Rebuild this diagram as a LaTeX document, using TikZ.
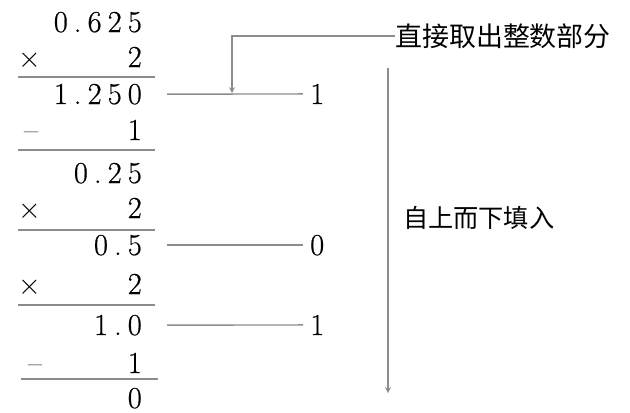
\documentclass[tikz,border=0pt]{standalone}
\usepackage{fontspec}
\usepackage{tikz}
\usetikzlibrary{positioning}
\newfontfamily\cjk{Noto Sans CJK SC}
\newfontfamily\numfont[LetterSpace=20,FakeBold=0.6]{Latin Modern Roman}
\definecolor{lgray}{RGB}{140,140,140}

\begin{document}
\begin{tikzpicture}
            [x=0.03cm,y=-0.03cm,>=stealth,
            num/.style={inner sep=0pt,font=\numfont\fontsize{26}{30}\selectfont},
            op/.style={inner sep=0pt,font=\fontsize{#1}{26}\selectfont},
            cn/.style={inner sep=0pt,font=\cjk\fontsize{23}{28}\selectfont},
            gl/.style={draw=lgray,line width=1.2pt}]
            \useasboundingbox (0,0) rectangle (630,413);
            % the column of products
            \node[num,anchor=base east] (r1) at (142,32) {0.625};
            \node[op=24,anchor=base] (x1) at (30,67) {$\times$};
            \node[num,anchor=base east] (r2) at (142,67) {2};
            \node[num,anchor=base east] (r3) at (142,104) {1.250};
            \node[op=26,anchor=base] (m1) at (31,140) {--};
            \node[num,anchor=base east] (r4) at (142,140) {1};
            \node[num,anchor=base east] (r5) at (142,183) {0.25};
            \node[op=24,anchor=base] (x2) at (30,218) {$\times$};
            \node[num,anchor=base east] (r6) at (142,218) {2};
            \node[num,anchor=base east] (r7) at (142,255) {0.5};
            \node[op=24,anchor=base] (x3) at (30,294) {$\times$};
            \node[num,anchor=base east] (r8) at (142,294) {2};
            \node[num,anchor=base east] (r9) at (142,335) {1.0};
            \node[op=26,anchor=base] (m2) at (35,373) {--};
            \node[num,anchor=base east] (r10) at (142,373) {1};
            \node[num,anchor=base east] (r11) at (142,408) {0};
            \draw[gl] (18,77) -- (155,77);
            \draw[gl] (18,150) -- (155,150);
            \draw[gl] (18,230) -- (155,230);
            \draw[gl] (18,305) -- (155,305);
            \draw[gl] (21,379) -- (158,379);
            % integer parts
            \node[num,anchor=base west] (d1) at (310,104) {1};
            \node[num,anchor=base west] (d2) at (310,255) {0};
            \node[num,anchor=base west] (d3) at (310,335) {1};
            \draw[gl,shorten <=0.75cm,shorten >=0.21cm] (r3.east) -- (d1.west);
            \draw[gl,shorten <=0.75cm,shorten >=0.21cm] (r7.east) -- (d2.west);
            \draw[gl,shorten <=0.75cm,shorten >=0.21cm] (r9.east) -- (d3.west);
            % notes
            \node[cn,anchor=west] (t1) at (395,36) {直接取出整数部分};
            \coordinate (c1) at (232,93);
            \draw[gl,->] (t1.west) -| (c1);
            \coordinate (va) at (388,68);
            \coordinate (vb) at (388,393);
            \draw[gl,->] (va) -- (vb);
            \node[cn,anchor=west,font=\cjk\fontsize{21.5}{26}\selectfont] (t2) at (403,218) {自上而下填入};
        \end{tikzpicture}
\end{document}
